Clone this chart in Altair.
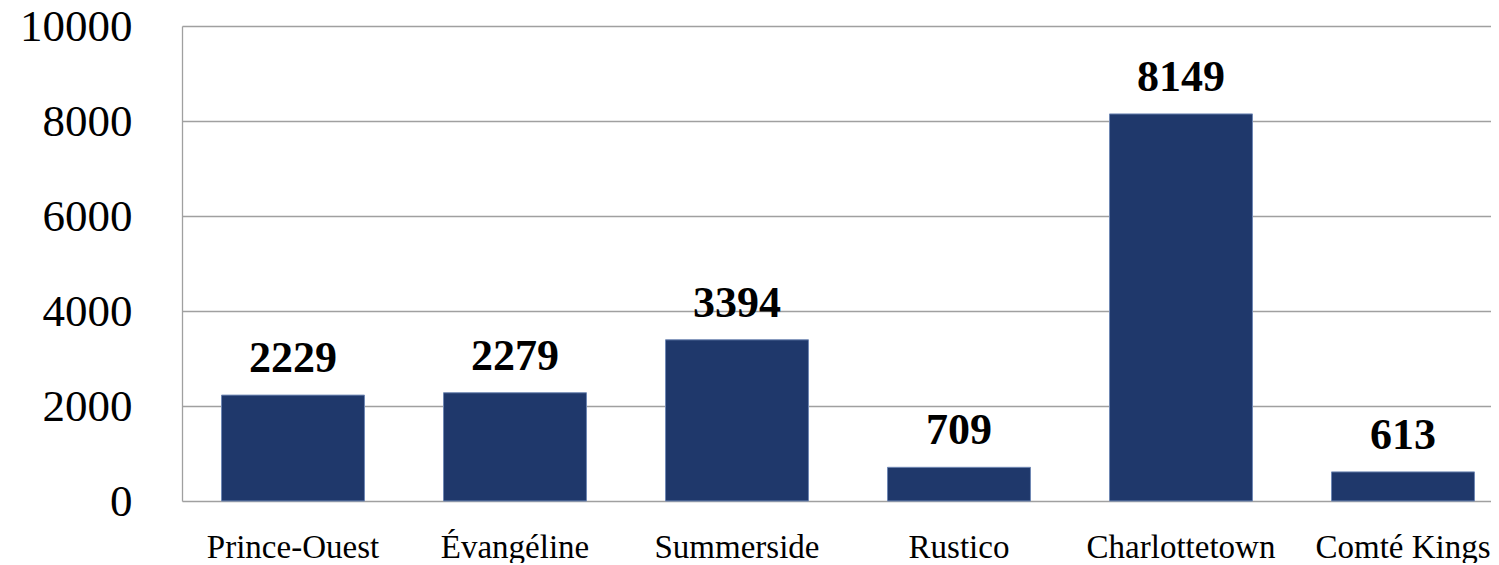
import altair as alt
import pandas as pd

categories = ["Prince-Ouest", "Évangéline", "Summerside", "Rustico", "Charlottetown", "Comté Kings"]
values = [2229, 2279, 3394, 709, 8149, 613]

df = pd.DataFrame({"cat": categories, "val": values})

FONT = "Liberation Serif"

x = alt.X("cat:N", sort=categories, title=None,
          scale=alt.Scale(range=[0, 1332], paddingInner=0.356, paddingOuter=0.178),
          axis=alt.Axis(labelAngle=0, labelFont=FONT, labelFontSize=33, labelColor="#000000",
                        labelPadding=30, ticks=False, domain=False, grid=False,
                        labelLimit=400))
y = alt.Y("val:Q", title=None,
          scale=alt.Scale(domain=[0, 10000], nice=False),
          axis=alt.Axis(values=[0, 2000, 4000, 6000, 8000, 10000], format="d", labelFont=FONT,
                        labelFontSize=45, labelColor="#000000", labelPadding=50,
                        ticks=False, domain=True, domainColor="#a0a0a0", domainWidth=1.3,
                        gridColor="#a0a0a0", gridWidth=1.3))

base = alt.Chart(df)
bars = base.mark_bar(color="#1F386B", stroke="#7088b4", strokeWidth=1).encode(x=x, y=y)
text = base.mark_text(baseline="bottom", dy=-14, font=FONT, fontSize=44, fontWeight="bold",
                      color="#000000").encode(x=alt.X("cat:N", sort=categories), y="val:Q",
                                              text="val:Q")

chart = (bars + text).properties(
    width=1309, height=475,
    padding={"left": 174, "top": 18, "right": 0, "bottom": 62},
    background="#ffffff",
    autosize=alt.AutoSizeParams(type="none"),
).configure_view(stroke=None)

chart.save("out.html", embed_options={"renderer": "svg", "actions": False})
